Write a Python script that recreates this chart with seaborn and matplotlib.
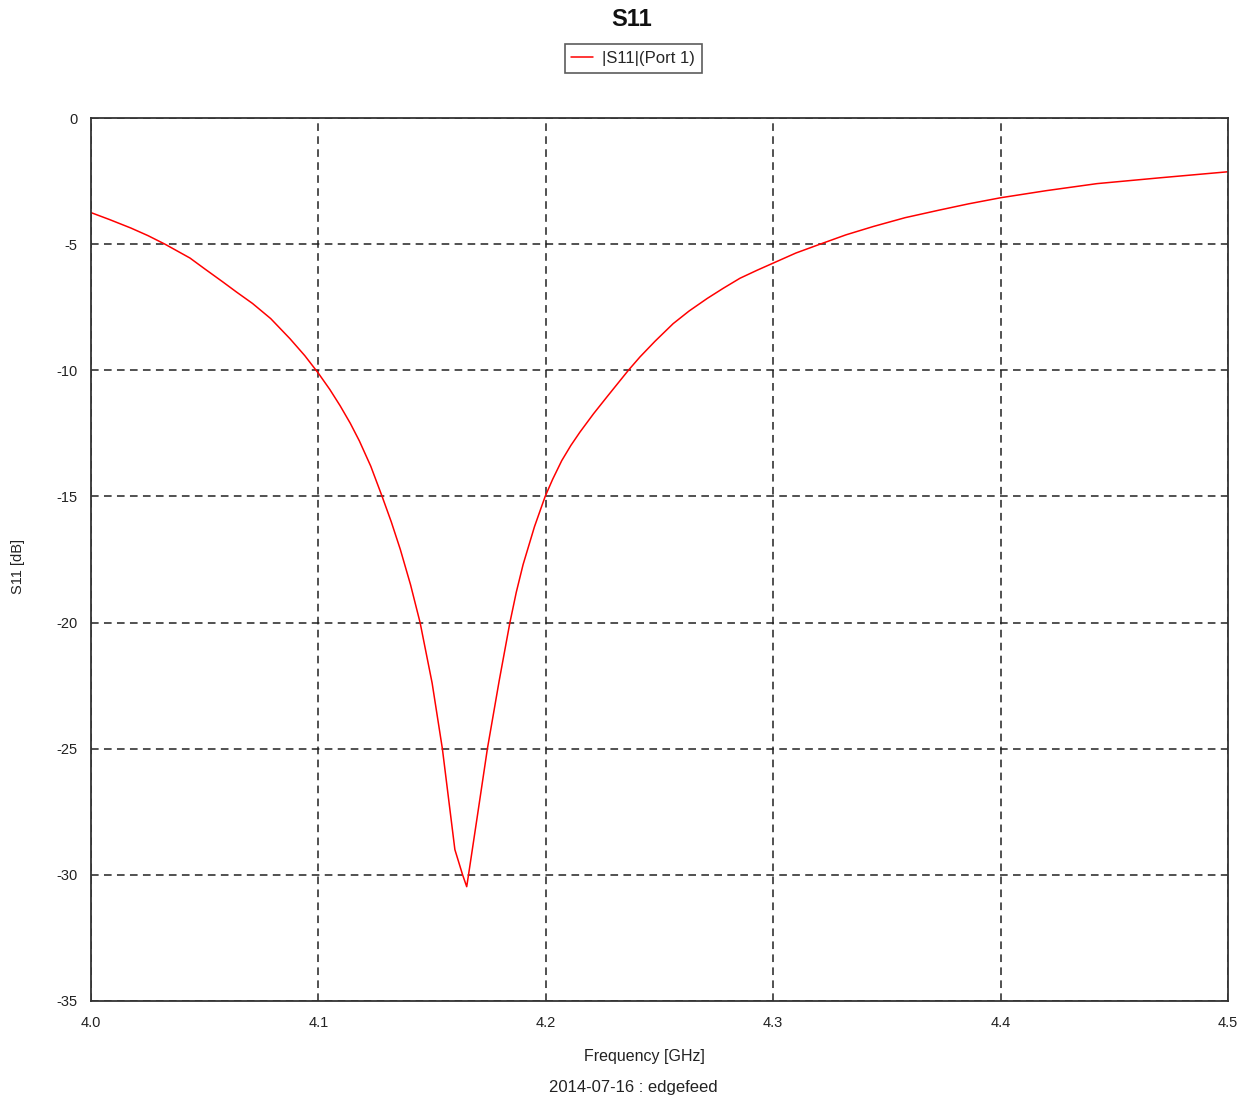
import matplotlib
matplotlib.use("Agg")
import matplotlib.pyplot as plt
import seaborn as sns
import pandas as pd

# Reflection coefficient |S11| of port 1 over the sweep
freq_ghz = [4.000, 4.008, 4.0175, 4.025, 4.0325, 4.0435, 4.050, 4.058,
            4.064, 4.071, 4.079, 4.0875, 4.094, 4.100, 4.105, 4.1095,
            4.114, 4.118, 4.123, 4.128, 4.132, 4.136, 4.1405, 4.1447,
            4.150, 4.1545, 4.160, 4.1634, 4.1652, 4.166, 4.170, 4.1743,
            4.1795, 4.1842, 4.187, 4.190, 4.195, 4.1997, 4.203, 4.207,
            4.211, 4.215, 4.221, 4.227, 4.2363, 4.2414, 4.248, 4.256,
            4.263, 4.271, 4.278, 4.2854, 4.293, 4.300, 4.310, 4.3206,
            4.332, 4.344, 4.358, 4.373, 4.386, 4.400, 4.420, 4.4424,
            4.470, 4.500]
s11_db = [-3.75, -4.02, -4.36, -4.66, -5.0, -5.55, -5.98, -6.5,
          -6.9, -7.35, -7.95, -8.75, -9.42, -10.12, -10.76, -11.4,
          -12.1, -12.8, -13.8, -15.0, -16.0, -17.1, -18.5, -20.0,
          -22.4, -25.0, -29.0, -30.0, -30.47, -30.0, -27.6, -25.0,
          -22.3, -20.0, -18.8, -17.7, -16.2, -15.0, -14.32, -13.58,
          -12.98, -12.45, -11.72, -11.04, -10.0, -9.47, -8.85, -8.15,
          -7.65, -7.15, -6.75, -6.35, -6.03, -5.75, -5.35, -5.0,
          -4.63, -4.3, -3.95, -3.65, -3.4, -3.16, -2.88, -2.6,
          -2.37, -2.13]

x_ticks = [4.0, 4.1, 4.2, 4.3, 4.4, 4.5]
y_ticks = [0, -5, -10, -15, -20, -25, -30, -35]

df = pd.DataFrame({"Frequency": freq_ghz, "S11": s11_db})

sns.set_style("white")
plt.rcParams["font.family"] = ["Liberation Sans", "DejaVu Sans"]

fig = plt.figure(figsize=(12.56, 10.99), dpi=100)
ax = fig.add_axes([0.0725, 0.0892, 0.9052, 0.8034])

sns.lineplot(data=df, x="Frequency", y="S11", ax=ax, color="#ff0000",
             linewidth=1.1, label="|S11|(Port 1)", sort=False)

ax.set_xlim(4.0, 4.5)
ax.set_ylim(-35, 0)
ax.set_xticks(x_ticks)
ax.set_xticklabels([f"{v:.1f}" for v in x_ticks])
ax.set_yticks(y_ticks)
ax.set_yticklabels([str(v) for v in y_ticks])
ax.tick_params(axis="both", direction="in", length=3.5, width=1.0,
               color="#333333", labelsize=10.5, labelcolor="#222222")
ax.tick_params(axis="x", pad=11)
ax.tick_params(axis="y", pad=10)

ax.grid(True, color="#222222", linestyle=(0, (5, 3.5)), linewidth=1.1)
for sp in ax.spines.values():
    sp.set_color("#333333")
    sp.set_linewidth(1.3)

ax.set_xlabel("Frequency [GHz]", fontsize=11.5, color="#222222")
ax.xaxis.set_label_coords(0.487, -0.0634)
ax.xaxis.label.set_va("center")
ax.set_ylabel("S11 [dB]", fontsize=10.5, color="#222222")
ax.yaxis.set_label_coords(-0.0642, 0.4926)
ax.yaxis.label.set_va("center")

fig.text(0.503, 0.9822, "S11", ha="center", va="center",
         fontsize=17, fontweight="bold", color="#111111")

leg = ax.legend(loc="center", fontsize=12, frameon=True, fancybox=False,
                handlelength=1.3, borderpad=0.4, handletextpad=0.55)
leg.set_bbox_to_anchor((0.504, 0.9468), transform=fig.transFigure)
leg.get_frame().set_edgecolor("#333333")
leg.get_frame().set_linewidth(1.2)

fig.text(0.504, 0.0109, "2014-07-16 : edgefeed", ha="center", va="center",
         fontsize=12, color="#222222")

fig.savefig("out.png", dpi=100, facecolor="white")
